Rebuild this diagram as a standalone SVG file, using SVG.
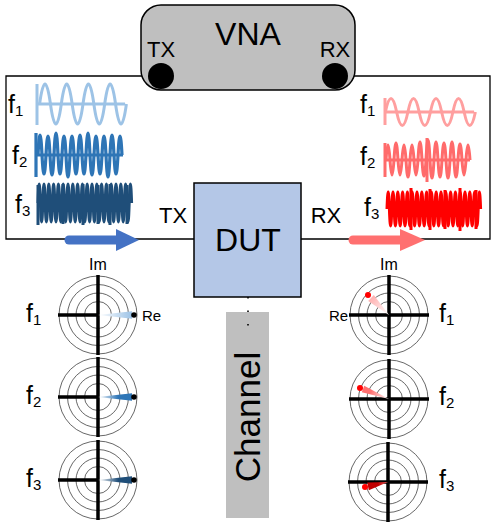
<svg xmlns="http://www.w3.org/2000/svg" width="498" height="531" viewBox="0 0 498 531">
<style>
.t{font-family:"Liberation Sans",Arial,sans-serif;fill:#000}
.w{fill:none;stroke-linejoin:round;stroke-linecap:butt}
.ring{fill:none;stroke:#404040;stroke-width:0.8}
.ax{stroke:#000;stroke-width:3.5;fill:none}
.wire{fill:none;stroke:#000;stroke-width:1.3}
</style>
<defs>
<linearGradient id="gl1" x1="0" y1="0" x2="1" y2="0"><stop offset="0" stop-color="#fff"/><stop offset="1" stop-color="#9dc3e6"/></linearGradient>
<linearGradient id="gl2" x1="0" y1="0" x2="1" y2="0"><stop offset="0" stop-color="#fff"/><stop offset="0.6" stop-color="#2e75b6"/></linearGradient>
<linearGradient id="gl3" x1="0" y1="0" x2="1" y2="0"><stop offset="0" stop-color="#fff"/><stop offset="0.6" stop-color="#1f4e79"/></linearGradient>
<linearGradient id="gr1" gradientUnits="userSpaceOnUse" x1="0" y1="0" x2="-18" y2="-17"><stop offset="0" stop-color="#fff"/><stop offset="1" stop-color="#ffb0b0"/></linearGradient>
<linearGradient id="gr2" gradientUnits="userSpaceOnUse" x1="0" y1="0" x2="-26" y2="-10"><stop offset="0" stop-color="#fff"/><stop offset="0.7" stop-color="#ff7070"/></linearGradient>
<linearGradient id="gr3" gradientUnits="userSpaceOnUse" x1="0" y1="0" x2="-20" y2="4"><stop offset="0" stop-color="#e06060"/><stop offset="0.5" stop-color="#c00000"/></linearGradient>
</defs>

<g id="channel">
<rect x="226" y="312" width="43" height="206" fill="#bfbfbf"/>
<text class="t" font-size="35" text-anchor="middle" transform="translate(260,417) rotate(-90)">Channel</text>
</g>

<g id="connectors">
<path class="wire" d="M161 76 H6 V239 H194"/>
<path class="wire" d="M335 76 H490 V239 H301"/>
<path d="M248 297 V326" stroke="#000" stroke-width="1.6" stroke-dasharray="1.5 12" fill="none"/>
<g id="arrow-tx">
<line x1="69" y1="240" x2="120" y2="240" stroke="#4472c4" stroke-width="9" stroke-linecap="round"/>
<polygon points="116,229 139,240 116,251" fill="#4472c4"/>
</g>
<g id="arrow-rx">
<line x1="353" y1="240" x2="404" y2="240" stroke="#ff7070" stroke-width="9" stroke-linecap="round"/>
<polygon points="400,229 425,240 400,251" fill="#ff7070"/>
</g>
</g>

<g id="vna">
<rect x="141" y="5" width="214" height="85" rx="20" ry="20" fill="#bfbfbf" stroke="#000" stroke-width="1.5"/>
<text class="t" x="248" y="45" font-size="32" text-anchor="middle">VNA</text>
<text class="t" x="161" y="57" font-size="22" text-anchor="middle">TX</text>
<text class="t" x="335" y="57" font-size="22" text-anchor="middle">RX</text>
<circle cx="161" cy="76" r="13" fill="#000"/>
<circle cx="335" cy="76" r="13" fill="#000"/>
</g>

<g id="dut">
<rect x="194" y="183" width="107" height="114" fill="#b4c7e7" stroke="#000" stroke-width="1.5"/>
<text class="t" x="248" y="251" font-size="32" text-anchor="middle">DUT</text>
</g>
<text class="t" x="173" y="223" font-size="22" text-anchor="middle">TX</text>
<text class="t" x="326" y="223" font-size="22" text-anchor="middle">RX</text>

<g id="tx-waves">
<text class="t" x="8" y="113" font-size="25">f<tspan font-size="15" dy="3">1</tspan></text>
<text class="t" x="12" y="164" font-size="25">f<tspan font-size="15" dy="3">2</tspan></text>
<text class="t" x="15" y="213" font-size="25">f<tspan font-size="15" dy="3">3</tspan></text>
<g stroke="#9dc3e6" stroke-width="3" class="w">
<path d="M37 84 V125 M37 104 H125"/>
<path d="M39.6 104 q5.4 -40 10.85 0 t10.85 0 t10.85 0 t10.85 0 t10.85 0 t10.85 0 t10.85 0 t10.85 0"/>
</g>
<g stroke="#2e75b6" stroke-width="3.2" class="w">
<path d="M36 133 V177 M36 155 H123"/>
<path d="M38 155 q2 -40 4 0 q2 38 4 0 q2 -38 4 0 q2 40 4 0 q2 -44 4 0 q2 38 4 0 q2 -38 4 0 q2 44 4 0 q2 -38 4 0 q2 38 4 0 q2 -40 4 0 q2 38 4 0 q2 -44 4 0 q2 40 4 0 q2 -38 4 0 q2 38 4 0 q2 -38 4 0 q2 44 4 0 q2 -40 4 0 q2 38 4 0 q2 -38 4 0"/>
</g>
<g stroke="#1f4e79" stroke-width="3" class="w">
<path d="M38 185 V225 M63 184 V224 M83 184 V225 M98 185 V224 M110 184 V225 M127 185 V224"/>
<path d="M38 203 q1.2 -38 2.4 0 t2.4 0 t2.4 0 t2.4 0 t2.4 0 t2.4 0 t2.4 0 t2.4 0 t2.4 0 t2.4 0 t2.4 0 t2.4 0 t2.4 0 t2.4 0 t2.4 0 t2.4 0 t2.4 0 t2.4 0 t2.4 0 t2.4 0 t2.4 0 t2.4 0 t2.4 0 t2.4 0 t2.4 0 t2.4 0 t2.4 0 t2.4 0 t2.4 0 t2.4 0 t2.4 0 t2.4 0 t2.4 0 t2.4 0 t2.4 0 t2.4 0 t2.4 0 t2.4 0 t2.4 0"/>
</g>
</g>

<g id="rx-waves">
<text class="t" x="360" y="113" font-size="25">f<tspan font-size="15" dy="3">1</tspan></text>
<text class="t" x="360" y="165" font-size="25">f<tspan font-size="15" dy="3">2</tspan></text>
<text class="t" x="364" y="216" font-size="25">f<tspan font-size="15" dy="3">3</tspan></text>
<g stroke="#ff9f9f" stroke-width="3" class="w">
<path d="M385 98 V125 M385 112 H474"/>
<path d="M385.4 112 q5.6 -27 11.25 0 t11.25 0 t11.25 0 t11.25 0 t11.25 0 t11.25 0 t11.25 0 t11.25 0"/>
</g>
<g stroke="#ff6b6b" stroke-width="3" class="w">
<path d="M385 143 V177 M385 160 H470 M427 138 V182"/>
<path d="M386 160 q2 -30 4 0 q2 30 4 0 q2 -34 4 0 q2 30 4 0 q2 -30 4 0 q2 34 4 0 q2 -30 4 0 q2 30 4 0 q2 -36 4 0 q2 32 4 0 q2 -40 4 0 q2 36 4 0 q2 -36 4 0 q2 34 4 0 q2 -34 4 0 q2 36 4 0 q2 -36 4 0 q2 34 4 0 q2 -32 4 0 q2 30 4 0 q2 -30 4 0"/>
</g>
<g stroke="#ff0000" stroke-width="3" class="w">
<path d="M411 188 V230 M430 189 V230 M445 190 V229 M460 188 V231 M476 190 V229"/>
<path d="M387 209 q1.2 -34 2.4 0 t2.4 0 t2.4 0 t2.4 0 t2.4 0 t2.4 0 t2.4 0 t2.4 0 t2.4 0 t2.4 0 t2.4 0 t2.4 0 t2.4 0 t2.4 0 t2.4 0 t2.4 0 t2.4 0 t2.4 0 t2.4 0 t2.4 0 t2.4 0 t2.4 0 t2.4 0 t2.4 0 t2.4 0 t2.4 0 t2.4 0 t2.4 0 t2.4 0 t2.4 0 t2.4 0 t2.4 0 t2.4 0 t2.4 0 t2.4 0 t2.4 0 t2.4 0 t2.4 0 t2.4 0"/>
</g>
</g>

<g id="polar-tx">
<text class="t" x="98" y="270" font-size="16" text-anchor="middle">Im</text>
<text class="t" x="142" y="321" font-size="15">Re</text>
<text class="t" x="26" y="322" font-size="25">f<tspan font-size="15" dy="3">1</tspan></text>
<text class="t" x="26" y="404" font-size="25">f<tspan font-size="15" dy="3">2</tspan></text>
<text class="t" x="26" y="487" font-size="25">f<tspan font-size="15" dy="3">3</tspan></text>
<g id="polar-tx-f1" transform="translate(98,315)">
<circle class="ring" r="39"/><circle class="ring" r="30.5"/><circle class="ring" r="22"/><circle class="ring" r="13.5"/>
<path class="ax" d="M0 -40 V40 M-40 0 H0"/>
<polygon points="0,0 34,-3.8 34,3.8" fill="url(#gl1)"/>
<circle cx="36" cy="0" r="2.8" fill="#000"/>
</g>
<g id="polar-tx-f2" transform="translate(98,397)">
<circle class="ring" r="39"/><circle class="ring" r="30.5"/><circle class="ring" r="22"/><circle class="ring" r="13.5"/>
<path class="ax" d="M0 -40 V40 M-40 0 H0"/>
<polygon points="0,0 34,-3.8 34,3.8" fill="url(#gl2)"/>
<circle cx="36" cy="0" r="2.8" fill="#000"/>
</g>
<g id="polar-tx-f3" transform="translate(98,480)">
<circle class="ring" r="39"/><circle class="ring" r="30.5"/><circle class="ring" r="22"/><circle class="ring" r="13.5"/>
<path class="ax" d="M0 -40 V40 M-40 0 H0"/>
<polygon points="0,0 34,-3.8 34,3.8" fill="url(#gl3)"/>
<circle cx="36" cy="0" r="2.8" fill="#000"/>
</g>
</g>

<g id="polar-rx">
<text class="t" x="389" y="270" font-size="16" text-anchor="middle">Im</text>
<text class="t" x="329" y="321" font-size="15">Re</text>
<text class="t" x="439" y="322" font-size="25">f<tspan font-size="15" dy="3">1</tspan></text>
<text class="t" x="439" y="405" font-size="25">f<tspan font-size="15" dy="3">2</tspan></text>
<text class="t" x="439" y="488" font-size="25">f<tspan font-size="15" dy="3">3</tspan></text>
<g id="polar-rx-f1" transform="translate(389,315)">
<circle class="ring" r="39"/><circle class="ring" r="30.5"/><circle class="ring" r="22"/><circle class="ring" r="13.5"/>
<path class="ax" d="M0 -40 V40 M-40 0 H40"/>
<polygon points="0,0 -15.2,-19.9 -20.8,-14.1" fill="url(#gr1)"/>
<circle cx="-21" cy="-20" r="3" fill="#ff0000"/>
</g>
<g id="polar-rx-f2" transform="translate(389,399)">
<circle class="ring" r="39"/><circle class="ring" r="30.5"/><circle class="ring" r="22"/><circle class="ring" r="13.5"/>
<path class="ax" d="M0 -40 V40 M-40 0 H40"/>
<polygon points="0,0 -24.8,-13.3 -27.2,-6.7" fill="url(#gr2)"/>
<circle cx="-29" cy="-11" r="3" fill="#ff0000"/>
</g>
<g id="polar-rx-f3" transform="translate(388,482)">
<circle class="ring" r="39"/><circle class="ring" r="30.5"/><circle class="ring" r="22"/><circle class="ring" r="13.5"/>
<path class="ax" d="M0 -40 V40 M-40 0 H40"/>
<polygon points="0,0 -20.8,0.4 -19.2,8.2" fill="url(#gr3)"/>
<circle cx="-23" cy="5" r="3" fill="#ff0000"/>
</g>
</g>
</svg>
